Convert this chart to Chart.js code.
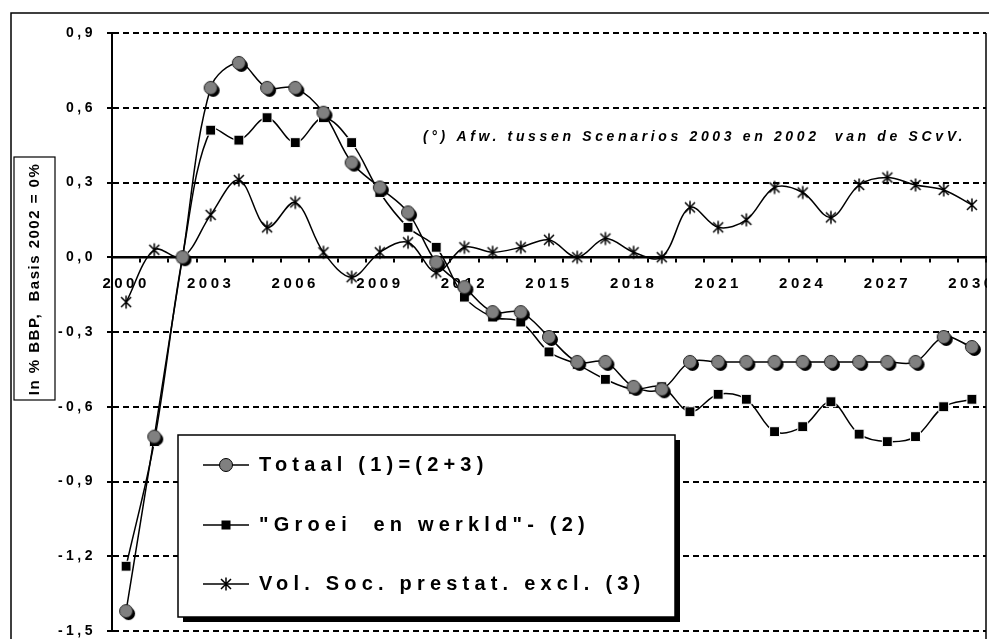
<!DOCTYPE html>
<html>
<head>
<meta charset="utf-8">
<script src="https://cdn.jsdelivr.net/npm/chart.js@4.4.1/dist/chart.umd.min.js"></script>
<style>
html, body { margin:0; padding:0; background:#fff; overflow:hidden; }
canvas { display:block; }
</style>
</head>
<body>
<canvas id="chart" width="989" height="639"></canvas>
<script>
// Years on the x axis
var years = [2000, 2001, 2002, 2003, 2004, 2005, 2006, 2007, 2008, 2009,
             2010, 2011, 2012, 2013, 2014, 2015, 2016, 2017, 2018, 2019,
             2020, 2021, 2022, 2023, 2024, 2025, 2026, 2027, 2028, 2029, 2030];

// Totaal (1)=(2+3)
var totaal = [-1.42, -0.72, 0.00, 0.68, 0.78, 0.68, 0.68, 0.58, 0.38, 0.28,
              0.18, -0.02, -0.12, -0.22, -0.22, -0.32, -0.42, -0.42, -0.52, -0.53,
              -0.42, -0.42, -0.42, -0.42, -0.42, -0.42, -0.42, -0.42, -0.42, -0.32, -0.36];

// "Groei en werkld" (2)
var groei = [-1.24, -0.74, 0.00, 0.51, 0.47, 0.56, 0.46, 0.56, 0.46, 0.26,
             0.12, 0.04, -0.16, -0.24, -0.26, -0.38, -0.43, -0.49, -0.53, -0.52,
             -0.62, -0.55, -0.57, -0.70, -0.68, -0.58, -0.71, -0.74, -0.72, -0.60, -0.57];

// Vol. Soc. prestat. excl. (3)
var vol = [-0.18, 0.03, 0.00, 0.17, 0.31, 0.12, 0.22, 0.02, -0.08, 0.02,
           0.06, -0.06, 0.04, 0.02, 0.04, 0.07, 0.00, 0.075, 0.02, 0.00,
           0.20, 0.12, 0.15, 0.28, 0.26, 0.16, 0.29, 0.32, 0.29, 0.27, 0.21];

var seriesNames = ['Totaal (1)=(2+3)', '"Groei  en werkld"- (2)', 'Vol. Soc. prestat. excl. (3)'];
var yMin = -1.5, yMax = 0.9, yStep = 0.3;
var yTitle = 'In % BBP,  Basis 2002 = 0%';
var note = '(\u00b0) Afw. tussen Scenarios 2003 en 2002  van de SCvV.';

var FONT = "'Liberation Sans', Arial, sans-serif";

// Marker images
function makeCircleMarker(){
  var c = document.createElement('canvas');
  c.width = 24; c.height = 24;
  var g = c.getContext('2d');
  g.fillStyle = '#000';
  g.beginPath(); g.arc(14.5, 14.5, 6.5, 0, Math.PI * 2); g.fill();
  g.fillStyle = '#808080'; g.strokeStyle = '#222'; g.lineWidth = 1;
  g.beginPath(); g.arc(12, 12, 6.5, 0, Math.PI * 2); g.fill(); g.stroke();
  return c;
}

function makeStarMarker(){
  var c = document.createElement('canvas');
  c.width = 16; c.height = 16;
  var g = c.getContext('2d');
  g.strokeStyle = '#000'; g.lineWidth = 1.5;
  g.beginPath();
  g.moveTo(3, 3); g.lineTo(13, 13);
  g.moveTo(13, 3); g.lineTo(3, 13);
  g.moveTo(8, 1.5); g.lineTo(8, 14.5);
  g.stroke();
  return c;
}

var circleMarker = makeCircleMarker();
var starMarker = makeStarMarker();

function fmt(v){
  return (Math.round(v * 10) / 10).toFixed(1).replace('.', ',');
}

// Frame, y title box, note, legend box
var decor = {
  id: 'decor',
  beforeDraw: function(chart){
    chart.ctx.letterSpacing = '3.5px';
  },
  afterDraw: function(chart){
    var ctx = chart.ctx, a = chart.chartArea;
    ctx.save();
    ctx.letterSpacing = '0px';

    // hide what spills right of the plot
    ctx.fillStyle = '#fff';
    ctx.fillRect(a.right + 1, 14, chart.width - a.right, chart.height);

    // right border of plot
    ctx.strokeStyle = '#000'; ctx.lineWidth = 1.5;
    ctx.beginPath(); ctx.moveTo(a.right, a.top); ctx.lineTo(a.right, chart.height); ctx.stroke();

    // outer frame
    ctx.lineWidth = 1.5;
    ctx.strokeRect(11, 13, 1000, 1000);

    // y title in a box
    ctx.fillStyle = '#fff';
    ctx.fillRect(14, 157, 41, 243);
    ctx.lineWidth = 1.2;
    ctx.strokeRect(14, 157, 41, 243);
    ctx.save();
    ctx.translate(35, 279);
    ctx.rotate(-Math.PI / 2);
    ctx.fillStyle = '#000';
    ctx.font = 'bold 15px ' + FONT;
    ctx.letterSpacing = '1.5px';
    ctx.textAlign = 'center'; ctx.textBaseline = 'middle';
    ctx.fillText(yTitle, 0, 0);
    ctx.restore();

    // note
    ctx.fillStyle = '#000';
    ctx.font = 'italic bold 14px ' + FONT;
    ctx.letterSpacing = '3.65px';
    ctx.textAlign = 'left'; ctx.textBaseline = 'middle';
    ctx.fillText(note, 423, 137);

    // legend box with shadow
    var lx = 178, ly = 435, lw = 497, lh = 182;
    ctx.fillStyle = '#000';
    ctx.fillRect(lx + 5, ly + 5, lw, lh);
    ctx.fillStyle = '#fff';
    ctx.fillRect(lx, ly, lw, lh);
    ctx.strokeStyle = '#000'; ctx.lineWidth = 1.5;
    ctx.strokeRect(lx, ly, lw, lh);

    var rows = [465, 525, 584];
    ctx.font = 'bold 20px ' + FONT;
    ctx.letterSpacing = '5.2px';
    for (var i = 0; i < 3; i++) {
      var y = rows[i];
      ctx.strokeStyle = '#000'; ctx.lineWidth = 1.5;
      ctx.beginPath(); ctx.moveTo(203, y); ctx.lineTo(249, y); ctx.stroke();
      if (i === 0) {
        ctx.fillStyle = '#808080'; ctx.lineWidth = 1;
        ctx.beginPath(); ctx.arc(226, y, 6.5, 0, Math.PI * 2); ctx.fill(); ctx.stroke();
      } else if (i === 1) {
        ctx.fillStyle = '#000';
        ctx.fillRect(221.5, y - 4.5, 9, 9);
      } else {
        ctx.drawImage(starMarker, 226 - 8, y - 8);
      }
      ctx.fillStyle = '#000';
      ctx.textAlign = 'left'; ctx.textBaseline = 'middle';
      ctx.fillText(seriesNames[i], 259, y);
    }
    ctx.restore();
    ctx.letterSpacing = '0px';
  }
};

var lineCommon = {
  borderColor: '#000',
  borderWidth: 1.5,
  tension: 0.35,
  fill: false
};

new Chart(document.getElementById('chart'), {
  type: 'line',
  data: {
    labels: years,
    datasets: [
      Object.assign({
        label: seriesNames[0],
        data: totaal,
        pointStyle: circleMarker,
        pointRadius: 7
      }, lineCommon),
      Object.assign({
        label: seriesNames[1],
        data: groei,
        pointStyle: 'rect',
        pointRadius: 7,
        pointBackgroundColor: '#000',
        pointBorderColor: '#fff',
        pointBorderWidth: 1
      }, lineCommon),
      Object.assign({
        label: seriesNames[2],
        data: vol,
        pointStyle: starMarker,
        pointRadius: 7
      }, lineCommon)
    ]
  },
  options: {
    responsive: false,
    animation: false,
    layout: { autoPadding: false, padding: { top: 33, bottom: 8, right: 3, left: 0 } },
    plugins: {
      legend: { display: false },
      tooltip: { enabled: false }
    },
    scales: {
      x: {
        type: 'category',
        position: { y: 0 },
        offset: true,
        grid: {
          drawOnChartArea: false,
          drawTicks: true,
          tickLength: 4,
          offset: true,
          color: '#000',
          lineWidth: 2
        },
        border: { display: true, color: '#000', width: 2.5 },
        ticks: {
          autoSkip: false,
          maxRotation: 0,
          minRotation: 0,
          padding: 14,
          color: '#000',
          font: { family: FONT, size: 15, weight: 'bold' },
          callback: function(v, i){
            var yr = years[i];
            return (yr - 2000) % 3 === 0 ? String(yr) : '';
          }
        },
        afterFit: function(scale){
          scale.paddingLeft = 0; scale.paddingRight = 0;
        }
      },
      y: {
        min: yMin,
        max: yMax,
        ticks: {
          stepSize: yStep,
          padding: 11,
          color: '#000',
          font: { family: FONT, size: 14, weight: 'bold' },
          callback: function(v){ return fmt(v); }
        },
        grid: {
          color: '#000',
          lineWidth: 2,
          drawTicks: true,
          tickLength: 5
        },
        border: { display: true, color: '#000', width: 2, dash: [6, 4] },
        afterFit: function(scale){
          scale.width = 112;
          scale.paddingTop = 0; scale.paddingBottom = 0;
        }
      }
    }
  },
  plugins: [decor]
});
</script>
</body>
</html>
